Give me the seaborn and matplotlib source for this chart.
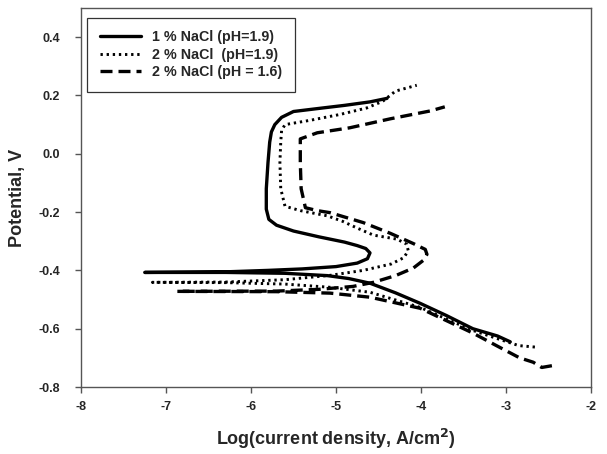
import matplotlib
matplotlib.use("Agg")
import matplotlib.pyplot as plt
import seaborn as sns
import pandas as pd

# Potentiodynamic polarization scans: log current density (A/cm2) vs potential (V)
nacl1_ph19_logi = [-2.95, -3.1, -3.39, -3.7, -4.01, -4.3, -4.6, -4.85, -5.1, -5.6, -6.3, -7.25,
                   -6.3, -5.8, -5.4, -5.0, -4.75, -4.63, -4.6, -4.65, -4.75, -4.9, -5.2,
                   -5.5, -5.7, -5.79, -5.82, -5.82, -5.8, -5.78, -5.76, -5.72, -5.64, -5.5,
                   -5.16, -4.9, -4.6, -4.4]
nacl1_ph19_pot = [-0.645, -0.625, -0.600, -0.555, -0.513, -0.477, -0.444, -0.428, -0.418, -0.41, -0.407, -0.407,
                  -0.405, -0.400, -0.395, -0.387, -0.375, -0.36, -0.34, -0.325, -0.315, -0.303, -0.285,
                  -0.265, -0.245, -0.225, -0.19, -0.12, -0.03, 0.04, 0.075, 0.1, 0.125, 0.145,
                  0.157, 0.166, 0.178, 0.19]

nacl2_ph19_logi = [-2.66, -2.85, -3.04, -3.4, -4.01, -4.6, -5.07, -5.6, -6.3, -7.16,
                   -6.3, -5.6, -5.07, -4.68, -4.35, -4.2, -4.15, -4.17, -4.28, -4.56, -4.75, -4.92,
                   -5.1, -5.42, -5.6, -5.65, -5.66, -5.65, -5.64, -5.6, -5.3, -4.95, -4.64, -4.45,
                   -4.3, -4.05]
nacl2_ph19_pot = [-0.663, -0.658, -0.640, -0.605, -0.527, -0.475, -0.458, -0.447, -0.442, -0.441,
                  -0.440, -0.432, -0.417, -0.400, -0.378, -0.356, -0.332, -0.31, -0.293, -0.279, -0.255, -0.232,
                  -0.213, -0.195, -0.18, -0.12, -0.03, 0.04, 0.08, 0.10, 0.115, 0.135, 0.157, 0.18,
                  0.215, 0.235]

nacl2_ph16_logi = [-2.46, -2.58, -2.68, -2.84, -3.1, -3.39, -4.01, -4.6, -5.07, -5.7, -6.87,
                   -5.7, -5.2, -4.8, -4.56, -4.3, -4.09, -3.97, -3.93, -3.95, -4.09, -4.36, -4.68,
                   -5.07, -5.22, -5.36, -5.41, -5.42, -5.42, -5.42, -5.22, -4.84, -4.36, -3.89, -3.72]
nacl2_ph16_pot = [-0.727, -0.733, -0.715, -0.700, -0.660, -0.615, -0.530, -0.492, -0.478, -0.473, -0.472,
                  -0.471, -0.465, -0.455, -0.441, -0.418, -0.392, -0.365, -0.345, -0.328, -0.308, -0.273, -0.236,
                  -0.202, -0.195, -0.185, -0.12, -0.03, 0.02, 0.051, 0.072, 0.089, 0.12, 0.147, 0.161]

series_labels = ["1 % NaCl (pH=1.9)", "2 % NaCl  (pH=1.9)", "2 % NaCl (pH = 1.6)"]
x_ticks = [-8, -7, -6, -5, -4, -3, -2]
y_ticks = [-0.8, -0.6, -0.4, -0.2, 0.0, 0.2, 0.4]

sns.set_theme(style="white")
plt.rcParams["font.family"] = ["Liberation Sans", "DejaVu Sans"]
plt.rcParams["font.weight"] = "bold"
plt.rcParams["mathtext.default"] = "bf"

fig = plt.figure(figsize=(6.07, 4.54), dpi=100)
ax = fig.add_axes([81 / 607, 1 - 387 / 454, 510 / 607, 379 / 454])

curves = [
    (nacl1_ph19_logi, nacl1_ph19_pot, "-", 2.4),
    (nacl2_ph19_logi, nacl2_ph19_pot, (0, (0.8, 1.3)), 2.1),
    (nacl2_ph16_logi, nacl2_ph16_pot, (0, (3.6, 1.8)), 2.4),
]
for (xs, ys, ls, lw), lab in zip(curves, series_labels):
    df = pd.DataFrame({"logi": xs, "pot": ys})
    sns.lineplot(data=df, x="logi", y="pot", sort=False, estimator=None,
                 color="black", linestyle=ls, linewidth=lw, label=lab, ax=ax)

ax.set_xlim(-8, -2)
ax.set_ylim(-0.8, 0.5)
ax.set_xticks(x_ticks)
ax.set_yticks(y_ticks)
ax.set_xticklabels([f"{t:d}" for t in x_ticks], fontsize=9, fontweight="bold")
ax.set_yticklabels([f"{t:.1f}" for t in y_ticks], fontsize=9, fontweight="bold")
ax.tick_params(axis="both", direction="out", length=4, width=1, color="#555555",
               bottom=True, left=True)
ax.tick_params(axis="y", pad=11)
ax.tick_params(axis="x", pad=6)
for sp in ax.spines.values():
    sp.set_color("#555555")
    sp.set_linewidth(1.0)

ax.set_xlabel("Log(current density, A/cm$^{2}$)", fontsize=13, fontweight="bold", labelpad=10)
ax.set_ylabel("Potential, V", fontsize=13, fontweight="bold", labelpad=9)

leg = ax.legend(loc="upper left", bbox_to_anchor=(0.0, 0.99), fontsize=10.3,
                handlelength=2.9, labelspacing=0.22, borderpad=0.9, handletextpad=0.75,
                borderaxespad=0.4, frameon=True, fancybox=False, edgecolor="black")
leg.get_frame().set_linewidth(0.9)
for t in leg.get_texts():
    t.set_fontweight("bold")

fig.savefig("out.png", dpi=100)
